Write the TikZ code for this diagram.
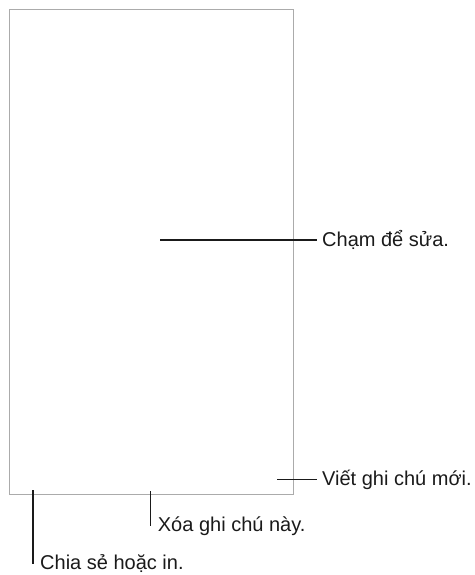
\documentclass[tikz,border=0pt]{standalone}
\usepackage{fontspec}
\setmainfont{Liberation Sans}
\usepackage{tikz}
\usetikzlibrary{positioning}
\definecolor{framegray}{HTML}{ABABAB}
\definecolor{inkdark}{HTML}{1A1A1A}
\tikzset{
  note/.style    = {draw=framegray,line width=1pt,minimum width=283.8pt,
                     minimum height=484.5pt,inner sep=0pt},
  callout/.style = {draw=inkdark,line width=1.1pt},
  lbl/.style     = {font=\fontsize{20}{24}\selectfont,text=inkdark,
                     inner ysep=0pt},
}

\begin{document}
\begin{tikzpicture}[x=1pt,y=-1pt]
  \useasboundingbox (0,0) rectangle (474,575);
  \node[note] (note) at (151.4,251.75) {};

  % Callouts: free end, label point, gap, text
  \foreach \nm/\sx/\sy/\ex/\ey/\gap/\txt in {
      tap/160/240/317/240/5pt/Chạm để sửa.,
      new/277/479.5/317/479.5/5pt/Viết ghi chú mới.,
      del/150.7/491/150.7/526/7pt/Xóa ghi chú này.,
      share/33/490/33/563.5/7pt/Chia sẻ hoặc in.}{
    \coordinate (\nm-start) at (\sx,\sy);
    \node[lbl,inner xsep=\gap,anchor=west] (\nm) at (\ex,\ey) {\txt};
    \draw[callout] (\nm-start) -- (\nm.west);
  }
\end{tikzpicture}
\end{document}
